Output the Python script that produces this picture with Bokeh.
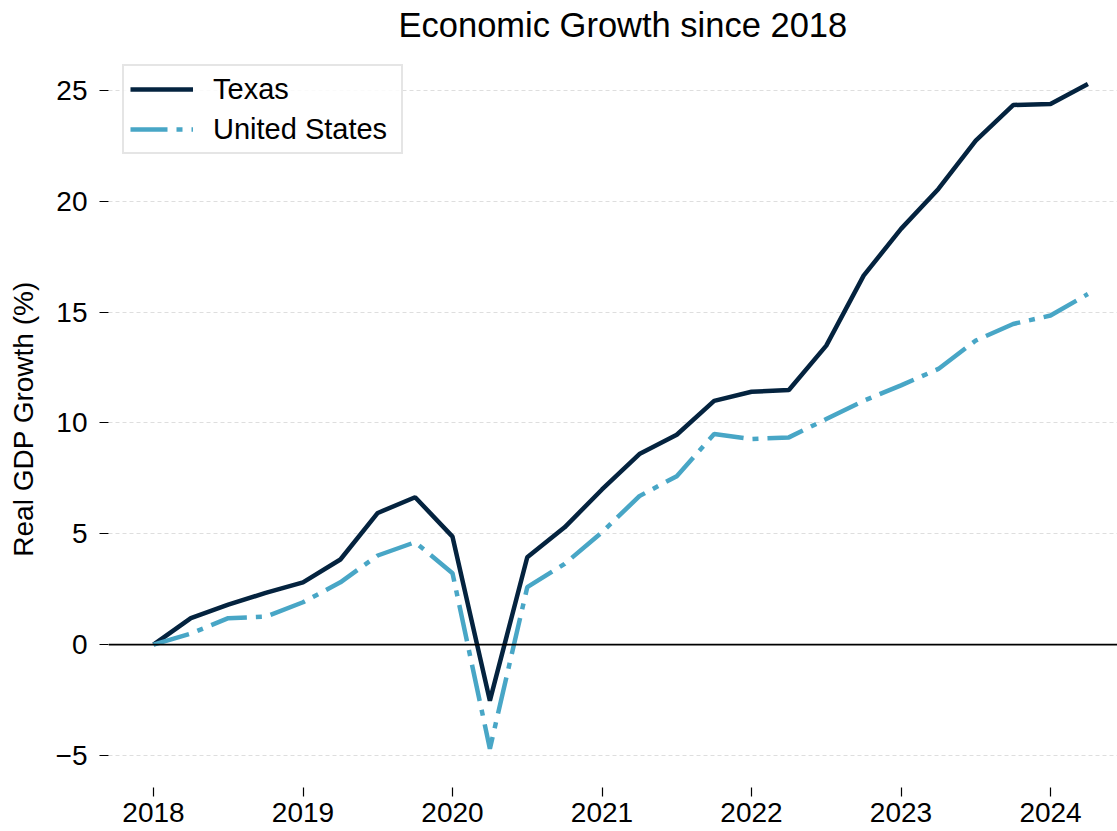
from bokeh.plotting import figure
from bokeh.models import FixedTicker, Span, Legend, LegendItem, Range1d, Title
from bokeh.embed import file_html
from bokeh.resources import INLINE

# ---- data ----
quarters = ["2018Q1", "2018Q2", "2018Q3", "2018Q4",
            "2019Q1", "2019Q2", "2019Q3", "2019Q4",
            "2020Q1", "2020Q2", "2020Q3", "2020Q4",
            "2021Q1", "2021Q2", "2021Q3", "2021Q4",
            "2022Q1", "2022Q2", "2022Q3", "2022Q4",
            "2023Q1", "2023Q2", "2023Q3", "2023Q4",
            "2024Q1", "2024Q2"]
texas = [0.0, 1.19, 1.8, 2.33, 2.81, 3.84, 5.94, 6.65,
         4.87, -2.53, 3.94, 5.29, 7.0, 8.6, 9.47, 11.0,
         11.41, 11.49, 13.49, 16.65, 18.76, 20.56, 22.74, 24.35,
         24.4, 25.3]
united_states = [0.0, 0.5, 1.19, 1.26, 1.91, 2.81, 4.02, 4.62,
                 3.22, -4.7, 2.59, 3.64, 5.07, 6.7, 7.6, 9.5,
                 9.28, 9.35, 10.18, 11.0, 11.7, 12.44, 13.72, 14.47,
                 14.85, 15.82]
year_ticks = [2018, 2019, 2020, 2021, 2022, 2023, 2024]
value_ticks = [-5, 0, 5, 10, 15, 20, 25]

x = [int(q[:4]) + (int(q[-1]) - 1) / 4 for q in quarters]

FONT = "Liberation Sans"
TEXAS_COLOR = "#04233f"
US_COLOR = "#48a6c6"

p = figure(width=1117, height=831, output_backend="svg", toolbar_location=None,
           x_range=Range1d(2017.699, 2024.448), y_range=Range1d(-6.45, 26.81),
           min_border_left=108, min_border_right=0, min_border_top=50,
           min_border_bottom=44)

p.title = Title(text="Economic Growth since 2018", align="left",
                text_font=FONT, text_font_size="34.5px", text_font_style="normal",
                text_color="black", standoff=10, offset=290, vertical_align="top")

p.outline_line_color = None
p.background_fill_color = "white"
p.border_fill_color = "white"

# grid
p.xgrid.grid_line_color = None
p.ygrid.grid_line_color = "#dedede"
p.ygrid.grid_line_dash = "4 3"
p.ygrid.grid_line_width = 1
p.ygrid.ticker = FixedTicker(ticks=value_ticks)

# axes
for ax in (p.xaxis[0], p.yaxis[0]):
    ax.axis_line_color = None
    ax.major_tick_line_color = "black"
    ax.major_tick_line_width = 1.2
    ax.major_tick_in = 0
    ax.major_tick_out = 9
    ax.minor_tick_line_color = None
    ax.major_label_text_font = FONT
    ax.major_label_text_font_size = "28px"
    ax.major_label_text_color = "black"

p.xaxis.ticker = FixedTicker(ticks=year_ticks)
p.xaxis.major_label_standoff = 6
p.yaxis.ticker = FixedTicker(ticks=value_ticks)
p.yaxis.major_label_standoff = 12
p.yaxis.major_label_overrides = {-5: "\u22125"}
p.yaxis.axis_label = "Real GDP Growth (%)"
p.yaxis.axis_label_text_font = FONT
p.yaxis.axis_label_text_font_size = "28px"
p.yaxis.axis_label_text_font_style = "normal"
p.yaxis.axis_label_text_color = "black"
p.yaxis.axis_label_standoff = 14

# zero line
p.add_layout(Span(location=0, dimension="width", line_color="black", line_width=1.6))

r_tx = p.line(x, texas, line_color=TEXAS_COLOR, line_width=4.5)
r_us = p.line(x, united_states, line_color=US_COLOR, line_width=4.5, line_dash="37 9 6 9")

legend = Legend(items=[LegendItem(label="Texas", renderers=[r_tx]),
                       LegendItem(label="United States", renderers=[r_us])],
                location="top_left", margin=14, padding=6, spacing=6,
                label_text_font=FONT, label_text_font_size="29px",
                label_text_color="black",
                glyph_width=63, glyph_height=34, label_height=34,
                label_width=182, label_standoff=20,
                border_line_color="#cccccc", border_line_width=2,
                background_fill_color="white", background_fill_alpha=0.85)
p.add_layout(legend, "center")

open("out.html", "w").write(file_html(p, INLINE))
